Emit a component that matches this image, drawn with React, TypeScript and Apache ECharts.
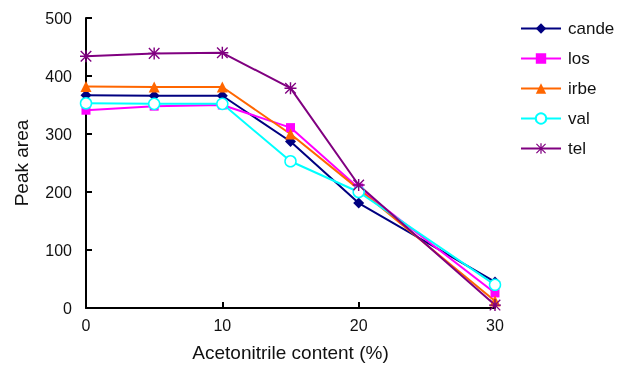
import React, { useEffect, useRef } from "react";
import * as echarts from "echarts";

const xValues = [0, 5, 10, 15, 20, 30];
const seriesNames = ["cande", "los", "irbe", "val", "tel"];
const cande = [367, 366, 366, 287, 181, 45];
const los = [341, 348, 350, 311, 207, 26];
const irbe = [382, 381, 381, 300, 205, 12];
const val = [353, 352, 352, 253, 200, 40];
const tel = [434, 439, 440, 379, 212, 5];

const ASTERISK =
  "path://M4.4,0 L5.6,0 L5.6,10 L4.4,10 Z M0,4.4 L10,4.4 L10,5.6 L0,5.6 Z M1,0.2 L9.8,9 L9,9.8 L0.2,1 Z M9,0.2 L9.8,1 L1,9.8 L0.2,9 Z";

const FONT = "'Liberation Sans', Arial, Helvetica, sans-serif";

export default function App() {
  const ref = useRef<HTMLDivElement>(null);
  useEffect(() => {
    if (!ref.current) return;
    const chart = echarts.init(ref.current, undefined, { renderer: "svg" });
    const mk = (name: string, data: number[], color: string, symbol: string, size: number, hollow = false) => ({
      name,
      type: "line",
      data: xValues.map((x, i) => [x, data[i]]),
      symbol,
      symbolSize: size,
      showAllSymbol: true,
      lineStyle: { color, width: 2 },
      itemStyle: hollow
        ? { color: "#ffffff", borderColor: color, borderWidth: 1.5 }
        : { color, borderColor: color, borderWidth: 0 },
      emphasis: { disabled: true },
    });
    chart.setOption({
      animation: false,
      textStyle: { fontFamily: FONT },
      grid: { left: 86, top: 18, right: 123, bottom: 68, containLabel: false },
      legend: {
        orient: "vertical",
        left: 515,
        top: 15,
        itemWidth: 40,
        itemHeight: 13,
        itemGap: 13,
        data: seriesNames,
        textStyle: { fontSize: 17, color: "#111", fontFamily: FONT, padding: [0, 0, 0, 2] },
      },
      xAxis: {
        type: "value",
        min: 0,
        max: 30,
        interval: 10,
        name: "Acetonitrile content (%)",
        nameLocation: "middle",
        nameGap: 35,
        nameTextStyle: { fontSize: 19, color: "#111", fontFamily: FONT },
        axisLine: { lineStyle: { color: "#000", width: 2 } },
        axisTick: { inside: true, length: 6, lineStyle: { color: "#000", width: 2 } },
        axisLabel: { fontSize: 16, color: "#111", margin: 9, fontFamily: FONT },
        splitLine: { show: false },
      },
      yAxis: {
        type: "value",
        min: 0,
        max: 500,
        interval: 100,
        name: "Peak area",
        nameLocation: "middle",
        nameGap: 55,
        nameTextStyle: { fontSize: 19, color: "#111", fontFamily: FONT },
        axisLine: { show: true, lineStyle: { color: "#000", width: 2 } },
        axisTick: { show: true, inside: true, length: 6, lineStyle: { color: "#000", width: 2 } },
        axisLabel: { fontSize: 16, color: "#111", margin: 14, fontFamily: FONT },
        splitLine: { show: false },
      },
      series: [
        mk("cande", cande, "#000080", "diamond", 11),
        mk("los", los, "#ff00ff", "rect", 9),
        mk("irbe", irbe, "#ff6600", "triangle", 11),
        mk("val", val, "#00ffff", "circle", 11, true),
        mk("tel", tel, "#800080", ASTERISK, 12),
      ],
    });
    return () => chart.dispose();
  }, []);
  return (
    <div
      ref={ref}
      style={{ position: "fixed", left: 0, top: 0, width: 618, height: 376 }}
    />
  );
}
